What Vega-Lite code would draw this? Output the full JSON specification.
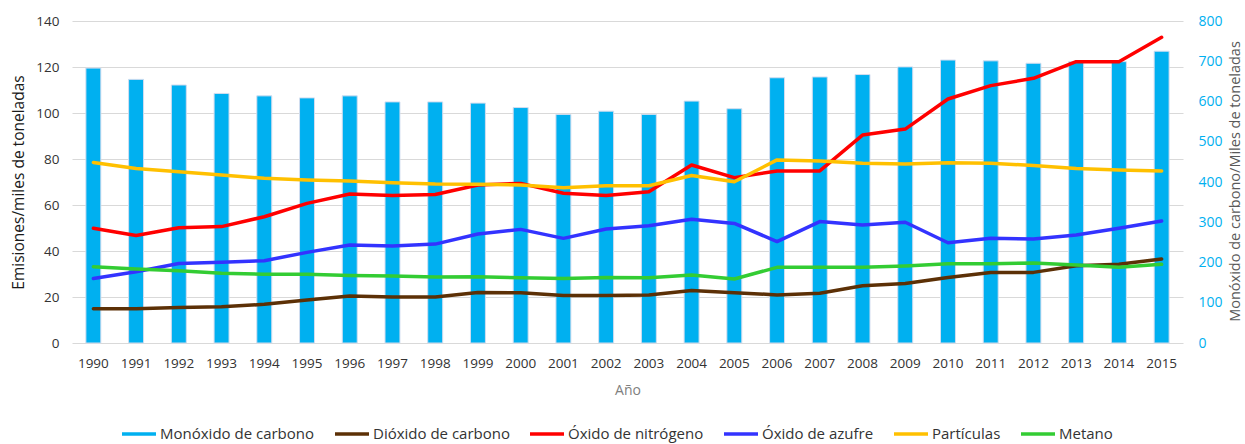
{
  "$schema": "https://vega.github.io/schema/vega-lite/v6.json",
  "autosize": {"type": "none"},
  "padding": {"left": 72, "top": 21, "right": 62, "bottom": 101},
  "width": 1111,
  "height": 322,
  "background": "white",
  "config": {
    "font": "Open Sans",
    "view": {"stroke": null},
    "axis": {"domain": false, "ticks": false, "gridColor": "#D9D9D9", "gridWidth": 1}
  },
  "datasets": {
    "co": [
      {"year": "1990", "serie": "Monóxido de carbono", "valor": 683},
      {"year": "1991", "serie": "Monóxido de carbono", "valor": 655},
      {"year": "1992", "serie": "Monóxido de carbono", "valor": 641},
      {"year": "1993", "serie": "Monóxido de carbono", "valor": 620},
      {"year": "1994", "serie": "Monóxido de carbono", "valor": 614},
      {"year": "1995", "serie": "Monóxido de carbono", "valor": 609},
      {"year": "1996", "serie": "Monóxido de carbono", "valor": 614},
      {"year": "1997", "serie": "Monóxido de carbono", "valor": 599},
      {"year": "1998", "serie": "Monóxido de carbono", "valor": 599},
      {"year": "1999", "serie": "Monóxido de carbono", "valor": 596},
      {"year": "2000", "serie": "Monóxido de carbono", "valor": 585},
      {"year": "2001", "serie": "Monóxido de carbono", "valor": 568},
      {"year": "2002", "serie": "Monóxido de carbono", "valor": 576},
      {"year": "2003", "serie": "Monóxido de carbono", "valor": 568},
      {"year": "2004", "serie": "Monóxido de carbono", "valor": 601},
      {"year": "2005", "serie": "Monóxido de carbono", "valor": 582},
      {"year": "2006", "serie": "Monóxido de carbono", "valor": 659},
      {"year": "2007", "serie": "Monóxido de carbono", "valor": 661},
      {"year": "2008", "serie": "Monóxido de carbono", "valor": 667},
      {"year": "2009", "serie": "Monóxido de carbono", "valor": 686},
      {"year": "2010", "serie": "Monóxido de carbono", "valor": 703},
      {"year": "2011", "serie": "Monóxido de carbono", "valor": 701},
      {"year": "2012", "serie": "Monóxido de carbono", "valor": 695},
      {"year": "2013", "serie": "Monóxido de carbono", "valor": 699},
      {"year": "2014", "serie": "Monóxido de carbono", "valor": 699},
      {"year": "2015", "serie": "Monóxido de carbono", "valor": 725}
    ],
    "em": [
      {"year": "1990", "serie": "Dióxido de carbono", "valor": 14.9},
      {"year": "1991", "serie": "Dióxido de carbono", "valor": 14.9},
      {"year": "1992", "serie": "Dióxido de carbono", "valor": 15.4},
      {"year": "1993", "serie": "Dióxido de carbono", "valor": 15.8},
      {"year": "1994", "serie": "Dióxido de carbono", "valor": 16.8},
      {"year": "1995", "serie": "Dióxido de carbono", "valor": 18.7},
      {"year": "1996", "serie": "Dióxido de carbono", "valor": 20.4},
      {"year": "1997", "serie": "Dióxido de carbono", "valor": 20.0},
      {"year": "1998", "serie": "Dióxido de carbono", "valor": 20.0},
      {"year": "1999", "serie": "Dióxido de carbono", "valor": 22.0},
      {"year": "2000", "serie": "Dióxido de carbono", "valor": 21.8},
      {"year": "2001", "serie": "Dióxido de carbono", "valor": 20.6},
      {"year": "2002", "serie": "Dióxido de carbono", "valor": 20.6},
      {"year": "2003", "serie": "Dióxido de carbono", "valor": 20.9},
      {"year": "2004", "serie": "Dióxido de carbono", "valor": 22.8},
      {"year": "2005", "serie": "Dióxido de carbono", "valor": 21.9},
      {"year": "2006", "serie": "Dióxido de carbono", "valor": 20.9},
      {"year": "2007", "serie": "Dióxido de carbono", "valor": 21.6},
      {"year": "2008", "serie": "Dióxido de carbono", "valor": 24.9},
      {"year": "2009", "serie": "Dióxido de carbono", "valor": 25.9},
      {"year": "2010", "serie": "Dióxido de carbono", "valor": 28.5},
      {"year": "2011", "serie": "Dióxido de carbono", "valor": 30.7},
      {"year": "2012", "serie": "Dióxido de carbono", "valor": 30.7},
      {"year": "2013", "serie": "Dióxido de carbono", "valor": 33.6},
      {"year": "2014", "serie": "Dióxido de carbono", "valor": 34.2},
      {"year": "2015", "serie": "Dióxido de carbono", "valor": 36.5},
      {"year": "1990", "serie": "Óxido de nitrógeno", "valor": 49.9},
      {"year": "1991", "serie": "Óxido de nitrógeno", "valor": 46.7},
      {"year": "1992", "serie": "Óxido de nitrógeno", "valor": 50.1},
      {"year": "1993", "serie": "Óxido de nitrógeno", "valor": 50.6},
      {"year": "1994", "serie": "Óxido de nitrógeno", "valor": 54.9},
      {"year": "1995", "serie": "Óxido de nitrógeno", "valor": 60.7},
      {"year": "1996", "serie": "Óxido de nitrógeno", "valor": 64.8},
      {"year": "1997", "serie": "Óxido de nitrógeno", "valor": 64.1},
      {"year": "1998", "serie": "Óxido de nitrógeno", "valor": 64.6},
      {"year": "1999", "serie": "Óxido de nitrógeno", "valor": 68.7},
      {"year": "2000", "serie": "Óxido de nitrógeno", "valor": 69.4},
      {"year": "2001", "serie": "Óxido de nitrógeno", "valor": 65.1},
      {"year": "2002", "serie": "Óxido de nitrógeno", "valor": 64.1},
      {"year": "2003", "serie": "Óxido de nitrógeno", "valor": 65.8},
      {"year": "2004", "serie": "Óxido de nitrógeno", "valor": 77.4},
      {"year": "2005", "serie": "Óxido de nitrógeno", "valor": 71.9},
      {"year": "2006", "serie": "Óxido de nitrógeno", "valor": 74.8},
      {"year": "2007", "serie": "Óxido de nitrógeno", "valor": 74.8},
      {"year": "2008", "serie": "Óxido de nitrógeno", "valor": 90.4},
      {"year": "2009", "serie": "Óxido de nitrógeno", "valor": 93.0},
      {"year": "2010", "serie": "Óxido de nitrógeno", "valor": 106.1},
      {"year": "2011", "serie": "Óxido de nitrógeno", "valor": 111.9},
      {"year": "2012", "serie": "Óxido de nitrógeno", "valor": 115.1},
      {"year": "2013", "serie": "Óxido de nitrógeno", "valor": 122.3},
      {"year": "2014", "serie": "Óxido de nitrógeno", "valor": 122.3},
      {"year": "2015", "serie": "Óxido de nitrógeno", "valor": 132.9},
      {"year": "1990", "serie": "Óxido de azufre", "valor": 28.0},
      {"year": "1991", "serie": "Óxido de azufre", "valor": 31.0},
      {"year": "1992", "serie": "Óxido de azufre", "valor": 34.6},
      {"year": "1993", "serie": "Óxido de azufre", "valor": 35.1},
      {"year": "1994", "serie": "Óxido de azufre", "valor": 35.8},
      {"year": "1995", "serie": "Óxido de azufre", "valor": 39.4},
      {"year": "1996", "serie": "Óxido de azufre", "valor": 42.6},
      {"year": "1997", "serie": "Óxido de azufre", "valor": 42.2},
      {"year": "1998", "serie": "Óxido de azufre", "valor": 43.0},
      {"year": "1999", "serie": "Óxido de azufre", "valor": 47.4},
      {"year": "2000", "serie": "Óxido de azufre", "valor": 49.4},
      {"year": "2001", "serie": "Óxido de azufre", "valor": 45.5},
      {"year": "2002", "serie": "Óxido de azufre", "valor": 49.6},
      {"year": "2003", "serie": "Óxido de azufre", "valor": 51.0},
      {"year": "2004", "serie": "Óxido de azufre", "valor": 53.8},
      {"year": "2005", "serie": "Óxido de azufre", "valor": 52.0},
      {"year": "2006", "serie": "Óxido de azufre", "valor": 44.1},
      {"year": "2007", "serie": "Óxido de azufre", "valor": 52.8},
      {"year": "2008", "serie": "Óxido de azufre", "valor": 51.3},
      {"year": "2009", "serie": "Óxido de azufre", "valor": 52.5},
      {"year": "2010", "serie": "Óxido de azufre", "valor": 43.6},
      {"year": "2011", "serie": "Óxido de azufre", "valor": 45.5},
      {"year": "2012", "serie": "Óxido de azufre", "valor": 45.2},
      {"year": "2013", "serie": "Óxido de azufre", "valor": 47.0},
      {"year": "2014", "serie": "Óxido de azufre", "valor": 49.9},
      {"year": "2015", "serie": "Óxido de azufre", "valor": 53.0},
      {"year": "1990", "serie": "Partículas", "valor": 78.5},
      {"year": "1991", "serie": "Partículas", "valor": 75.9},
      {"year": "1992", "serie": "Partículas", "valor": 74.5},
      {"year": "1993", "serie": "Partículas", "valor": 73.0},
      {"year": "1994", "serie": "Partículas", "valor": 71.6},
      {"year": "1995", "serie": "Partículas", "valor": 70.9},
      {"year": "1996", "serie": "Partículas", "valor": 70.4},
      {"year": "1997", "serie": "Partículas", "valor": 69.7},
      {"year": "1998", "serie": "Partículas", "valor": 69.1},
      {"year": "1999", "serie": "Partículas", "valor": 69.0},
      {"year": "2000", "serie": "Partículas", "valor": 68.7},
      {"year": "2001", "serie": "Partículas", "valor": 67.5},
      {"year": "2002", "serie": "Partículas", "valor": 68.4},
      {"year": "2003", "serie": "Partículas", "valor": 68.4},
      {"year": "2004", "serie": "Partículas", "valor": 72.8},
      {"year": "2005", "serie": "Partículas", "valor": 70.1},
      {"year": "2006", "serie": "Partículas", "valor": 79.6},
      {"year": "2007", "serie": "Partículas", "valor": 79.1},
      {"year": "2008", "serie": "Partículas", "valor": 78.1},
      {"year": "2009", "serie": "Partículas", "valor": 77.8},
      {"year": "2010", "serie": "Partículas", "valor": 78.4},
      {"year": "2011", "serie": "Partículas", "valor": 78.1},
      {"year": "2012", "serie": "Partículas", "valor": 77.2},
      {"year": "2013", "serie": "Partículas", "valor": 75.9},
      {"year": "2014", "serie": "Partículas", "valor": 75.2},
      {"year": "2015", "serie": "Partículas", "valor": 74.8},
      {"year": "1990", "serie": "Metano", "valor": 33.2},
      {"year": "1991", "serie": "Metano", "valor": 32.2},
      {"year": "1992", "serie": "Metano", "valor": 31.4},
      {"year": "1993", "serie": "Metano", "valor": 30.3},
      {"year": "1994", "serie": "Metano", "valor": 29.9},
      {"year": "1995", "serie": "Metano", "valor": 29.9},
      {"year": "1996", "serie": "Metano", "valor": 29.4},
      {"year": "1997", "serie": "Metano", "valor": 29.1},
      {"year": "1998", "serie": "Metano", "valor": 28.7},
      {"year": "1999", "serie": "Metano", "valor": 28.8},
      {"year": "2000", "serie": "Metano", "valor": 28.4},
      {"year": "2001", "serie": "Metano", "valor": 28.0},
      {"year": "2002", "serie": "Metano", "valor": 28.5},
      {"year": "2003", "serie": "Metano", "valor": 28.4},
      {"year": "2004", "serie": "Metano", "valor": 29.6},
      {"year": "2005", "serie": "Metano", "valor": 27.8},
      {"year": "2006", "serie": "Metano", "valor": 32.9},
      {"year": "2007", "serie": "Metano", "valor": 32.9},
      {"year": "2008", "serie": "Metano", "valor": 32.9},
      {"year": "2009", "serie": "Metano", "valor": 33.5},
      {"year": "2010", "serie": "Metano", "valor": 34.5},
      {"year": "2011", "serie": "Metano", "valor": 34.5},
      {"year": "2012", "serie": "Metano", "valor": 34.8},
      {"year": "2013", "serie": "Metano", "valor": 33.9},
      {"year": "2014", "serie": "Metano", "valor": 32.9},
      {"year": "2015", "serie": "Metano", "valor": 34.2}
    ]
  },
  "layer": [
    {
      "data": {"name": "co"},
      "mark": {"type": "bar", "stroke": "#D3DDEF", "strokeWidth": 1},
      "encoding": {
        "x": {
          "field": "year", "type": "ordinal",
          "scale": {"paddingInner": 0.65, "paddingOuter": 0.325},
          "axis": {
            "title": "Año", "labelAngle": 0, "labelFontSize": 13.5, "labelColor": "#333333",
            "labelPadding": 13, "titleFontSize": 14, "titleFontWeight": "normal", "titleColor": "#808080",
            "titleY": 47, "titleBaseline": "middle", "grid": false
          }
        },
        "y": {
          "field": "valor", "type": "quantitative",
          "scale": {"domain": [0, 800], "nice": false},
          "axis": {
            "orient": "right", "values": [0, 100, 200, 300, 400, 500, 600, 700, 800], "grid": false,
            "labelColor": "#00B0F0", "labelFontSize": 14, "labelPadding": 15,
            "title": "Monóxido de carbono/Miles de toneladas", "titleColor": "#595959",
            "titleFontSize": 14.5, "titleFontWeight": "normal", "titleAngle": 270,
            "titleX": 52, "titleY": 160, "titleBaseline": "middle", "titleAlign": "center"
          }
        },
        "color": {
          "field": "serie", "type": "nominal",
          "scale": {
            "domain": ["Monóxido de carbono", "Dióxido de carbono", "Óxido de nitrógeno", "Óxido de azufre", "Partículas", "Metano"],
            "range": ["#00B0F0", "#5C3006", "#FF0000", "#3333FF", "#FFC000", "#33CC33"]
          },
          "legend": {
            "title": null, "orient": "none", "direction": "horizontal", "legendX": 48, "legendY": 394,
            "labelFontSize": 15, "labelColor": "#333333", "labelOffset": 2, "columnPadding": 13,
            "symbolSize": 1156, "symbolType": "stroke", "symbolStrokeWidth": 3.5, "padding": 0,
            "encode": {
              "symbols": {
                "update": {
                  "shape": {"signal": "datum.value === 'Monóxido de carbono' ? 'M-1,-0.23H1V0.23H-1Z' : 'stroke'"},
                  "fill": {"signal": "datum.value === 'Monóxido de carbono' ? '#00B0F0' : 'transparent'"},
                  "stroke": {"signal": "datum.value === 'Monóxido de carbono' ? '#D3DDEF' : scale('color', datum.value)"},
                  "strokeWidth": {"signal": "datum.value === 'Monóxido de carbono' ? 1 : 3.5"}
                }
              }
            }
          }
        }
      }
    },
    {
      "data": {"name": "em"},
      "mark": {"type": "line", "strokeWidth": 3.5, "strokeJoin": "round", "strokeCap": "round"},
      "encoding": {
        "x": {"field": "year", "type": "ordinal", "bandPosition": 0.5},
        "y": {
          "field": "valor", "type": "quantitative",
          "scale": {"domain": [0, 140], "nice": false},
          "axis": {
            "orient": "left", "values": [0, 20, 40, 60, 80, 100, 120, 140], "grid": true,
            "labelColor": "#333333", "labelFontSize": 13.5, "labelPadding": 13,
            "title": "Emisiones/miles de toneladas", "titleColor": "#1a1a1a",
            "titleFontSize": 15.5, "titleFontWeight": "normal", "titleAngle": 270,
            "titleX": -54, "titleY": 161, "titleBaseline": "middle", "titleAlign": "center"
          }
        },
        "color": {"field": "serie", "type": "nominal"}
      }
    }
  ],
  "resolve": {"scale": {"y": "independent"}}
}
